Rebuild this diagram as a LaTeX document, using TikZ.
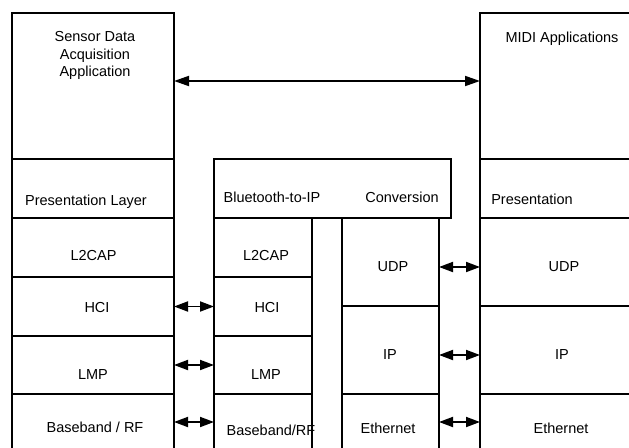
\documentclass[tikz,border=0pt]{standalone}
\usepackage{fontspec}
\setmainfont{Liberation Sans}
\usetikzlibrary{arrows.meta}
\begin{document}
\begin{tikzpicture}[x=1pt,y=-1pt,
  layer/.style={draw, line width=1.8pt, rectangle, anchor=north west, inner sep=0pt, outer sep=0pt},
  lbl/.style={font=\fontsize{14.5}{17.5}\selectfont, inner sep=0pt, align=center},
  bigarr/.style={line width=1.8pt, {Triangle[length=15pt,width=10pt]}-{Triangle[length=15pt,width=10pt]}},
  smallarr/.style={line width=1.8pt, {Triangle[length=14pt,width=10pt]}-{Triangle[length=14pt,width=10pt]}}]
\useasboundingbox (0,0) rectangle (629,447);
\clip (0,0) rectangle (629,447);
% left stack
\node[layer, minimum width=162pt, minimum height=146pt] (lapp) at (12,13) {};
\node[layer, minimum width=162pt, minimum height=59pt] (lpres) at (12,159) {};
\node[layer, minimum width=162pt, minimum height=59pt] (ll2) at (12,218) {};
\node[layer, minimum width=162pt, minimum height=59pt] (lhci) at (12,277) {};
\node[layer, minimum width=162pt, minimum height=58pt] (llmp) at (12,336) {};
\node[layer, minimum width=162pt, minimum height=56pt] (lbb) at (12,394) {};
% middle bluetooth stack
\node[layer, minimum width=237pt, minimum height=59pt] (bt) at (214,159) {};
\node[layer, minimum width=98pt, minimum height=59pt] (ml2) at (214,218) {};
\node[layer, minimum width=98pt, minimum height=59pt] (mhci) at (214,277) {};
\node[layer, minimum width=98pt, minimum height=58pt] (mlmp) at (214,336) {};
\node[layer, minimum width=98pt, minimum height=56pt] (mbb) at (214,394) {};
% middle IP stack
\node[layer, minimum width=97pt, minimum height=88pt] (mudp) at (342,218) {};
\node[layer, minimum width=97pt, minimum height=88pt] (mip) at (342,306) {};
\node[layer, minimum width=97pt, minimum height=56pt] (meth) at (342,394) {};
% right stack
\node[layer, minimum width=170pt, minimum height=146pt] (rapp) at (480,13) {};
\node[layer, minimum width=170pt, minimum height=59pt] (rpres) at (480,159) {};
\node[layer, minimum width=170pt, minimum height=88pt] (rudp) at (480,218) {};
\node[layer, minimum width=170pt, minimum height=88pt] (rip) at (480,306) {};
\node[layer, minimum width=170pt, minimum height=56pt] (reth) at (480,394) {};
% labels
\node[lbl, anchor=north] (tsensor) at (95,31.5) {Sensor Data\\Acquisition\\Application};
\node[lbl, anchor=base] (tmidi) at (562,42) {MIDI Applications};
\node[lbl, anchor=base] (tlpres) at (86,205) {Presentation Layer};
\node[lbl, anchor=base] (trpres) at (532,204) {Presentation};
\node[lbl, anchor=base] (tbt) at (272,202) {Bluetooth-to-IP};
\node[lbl, anchor=base] (tconv) at (402,202) {Conversion};
\node[lbl, anchor=base] (tll2) at (93.5,260) {L2CAP};
\node[lbl, anchor=base] (tml2) at (266,260) {L2CAP};
\node[lbl, anchor=base] (tlhci) at (97,312) {HCI};
\node[lbl, anchor=base] (tmhci) at (267,312) {HCI};
\node[lbl, anchor=base] (tllmp) at (93,379) {LMP};
\node[lbl, anchor=base] (tmlmp) at (266,379) {LMP};
\node[lbl, anchor=base] (tlbb) at (95,432) {Baseband / RF};
\node[lbl, anchor=base] (tmbb) at (271,435) {Baseband/RF};
\node[lbl, anchor=base] (tmudp) at (393,271) {UDP};
\node[lbl, anchor=base] (trudp) at (564,271) {UDP};
\node[lbl, anchor=base] (tmip) at (390,359) {IP};
\node[lbl, anchor=base] (trip) at (562,359) {IP};
\node[lbl, anchor=base] (tmeth) at (388,433) {Ethernet};
\node[lbl, anchor=base] (treth) at (561,433) {Ethernet};
% arrows
\draw[bigarr] ([yshift=5pt]lapp.east) -- ([yshift=5pt]rapp.west);
\draw[smallarr] (lhci.east) -- (mhci.west);
\draw[smallarr] (llmp.east) -- (mlmp.west);
\draw[smallarr] (lbb.east) -- (mbb.west);
\draw[smallarr] ([yshift=-5pt]mudp.east) -- ([yshift=-5pt]rudp.west);
\draw[smallarr] ([yshift=-5pt]mip.east) -- ([yshift=-5pt]rip.west);
\draw[smallarr] (meth.east) -- (reth.west);
\end{tikzpicture}
\end{document}
